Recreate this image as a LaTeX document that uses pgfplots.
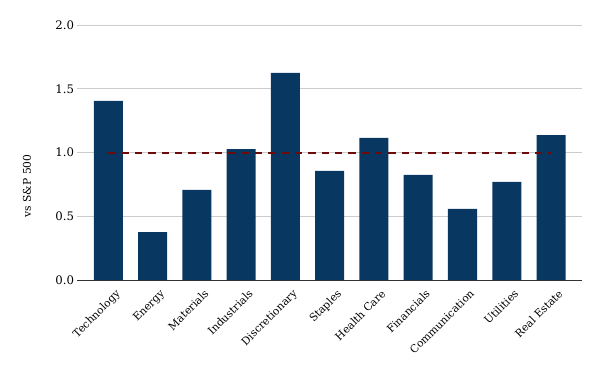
\documentclass[border=0pt]{standalone}
\usepackage{pgfplots}
\pgfplotsset{compat=1.18}
\usepackage{fontspec}
\setmainfont{DejaVu Serif}
\definecolor{barblue}{HTML}{083761}
\definecolor{dashred}{HTML}{6E0A0A}
\definecolor{gridgray}{HTML}{CCCCCC}
\begin{document}
\begin{tikzpicture}
\useasboundingbox (-57.75pt,-68.25pt) rectangle (392.25pt,210pt);
\begin{axis}[
  width=378.75pt, height=191.25pt, scale only axis,
  xmin=-0.71, xmax=10.7,
  ymin=0, ymax=2,
  ytick={0,0.5,1,1.5,2},
  yticklabel style={/pgf/number format/fixed,/pgf/number format/fixed zerofill,/pgf/number format/precision=1, font=\fontsize{8.8}{10}\selectfont, inner sep=2pt},
  /pgf/number format/assume math mode=true,
  xtick=data,
  xticklabels={Technology,Energy,Materials,Industrials,Discretionary,Staples,Health Care,Financials,Communication,Utilities,Real Estate},
  xticklabel style={rotate=45, anchor=north east, font=\fontsize{8}{9}\selectfont, inner sep=1pt, xshift=0pt, yshift=-7pt},
  major tick length=0pt,
  axis x line*=bottom,
  axis y line*=left,
  y axis line style={draw=none},
  ymajorgrids,
  grid style={gridgray, line width=0.6pt},
  x axis line style={black!80, line width=0.7pt},
  ylabel={vs S\&P 500},
  every axis y label/.style={at={(axis description cs:-0.099,0.369)}, rotate=90, anchor=center, font=\fontsize{8}{9}\selectfont},
  clip=false,
]
\addplot[ybar, bar width=21.75pt, fill=barblue, draw=none] coordinates {
  (0,1.404) (1,0.376) (2,0.706) (3,1.027) (4,1.624) (5,0.855) (6,1.114) (7,0.824) (8,0.557) (9,0.769) (10,1.137)
};
\addplot[dashred, line width=1.5pt, dash pattern=on 5.5pt off 4.5pt] coordinates {(0,1) (10,1)};
\end{axis}
\end{tikzpicture}
\end{document}
